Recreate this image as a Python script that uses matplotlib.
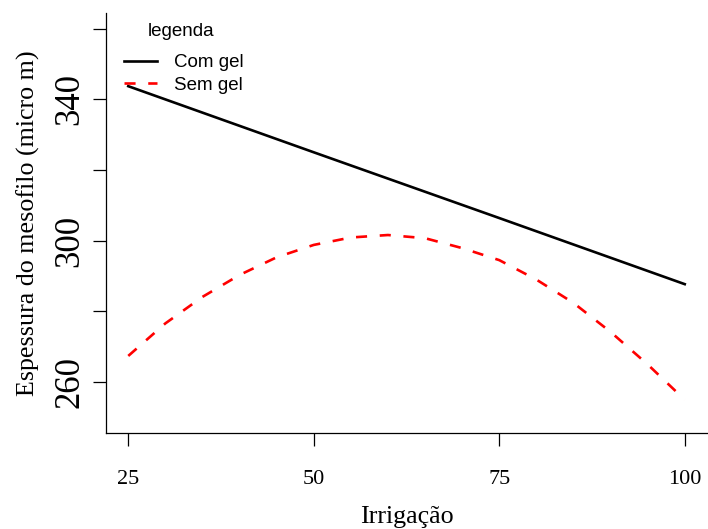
import numpy as np
import matplotlib
matplotlib.use("Agg")
import matplotlib.pyplot as plt

# Espessura do mesofilo em função da irrigação
irrigacao_com = [25, 50, 75, 100]
espessura_com = [343.7, 325.0, 306.4, 287.7]

irrigacao_sem = [25, 30, 35, 40, 45, 50, 55, 60, 65, 70, 75, 80, 85, 90, 95, 100]
espessura_sem = [267.4, 276.6, 284.1, 290.3, 295.3, 298.8, 300.9, 301.6,
                 300.7, 297.9, 294.5, 289.0, 282.4, 274.2, 265.0, 255.0]

xticks = [25, 50, 75, 100]
yticks = [260, 280, 300, 320, 340, 360]
ytick_labels = ["260", "", "300", "", "340", ""]

serif = "Liberation Serif"
sans = "Liberation Sans"

fig = plt.figure(figsize=(7.08, 5.29), dpi=100)
ax = fig.add_axes([106 / 708, 96 / 529, 601 / 708, 420 / 529])

ax.plot(irrigacao_com, espessura_com, color="black", lw=1.9, label="Com gel")
linha_sem, = ax.plot(irrigacao_sem, espessura_sem, color="#ff0000", lw=1.9,
                     label="Sem gel")
linha_sem.set_dashes((4.2, 4.8))
linha_sem.set_dash_capstyle("butt")

ax.set_xlim(22, 103)
ax.set_ylim(245.6, 364.4)

ax.spines["top"].set_visible(False)
ax.spines["right"].set_visible(False)
for s in ["left", "bottom"]:
    ax.spines[s].set_linewidth(0.9)

ax.set_xticks(xticks)
ax.set_xticklabels([str(v) for v in xticks], fontfamily=serif, fontsize=16)
ax.set_yticks(yticks)
ax.set_yticklabels(ytick_labels, fontfamily=serif, fontsize=25,
                   rotation=90, va="center", ha="center")
ax.tick_params(axis="both", direction="out", length=9.5, width=0.9)
ax.tick_params(axis="x", pad=17)
ax.tick_params(axis="y", pad=16.5)

ax.set_xlabel("Irrigação", fontfamily=serif, fontsize=18.7, labelpad=12.5)
ax.set_ylabel("Espessura do mesofilo (micro m)", fontfamily=serif,
              fontsize=18.7, labelpad=9.5)

leg = ax.legend(loc="upper left", bbox_to_anchor=(111 / 708, 1 - 41 / 529),
                bbox_transform=fig.transFigure, frameon=False,
                prop={"family": sans, "size": 13.5},
                handlelength=1.75, handletextpad=0.9, labelspacing=0.3,
                borderpad=0.2)
fig.text(181 / 708, 1 - 31 / 529, "legenda", family=sans, fontsize=13.5,
         ha="center", va="center")

fig.savefig("out.png", dpi=100)
